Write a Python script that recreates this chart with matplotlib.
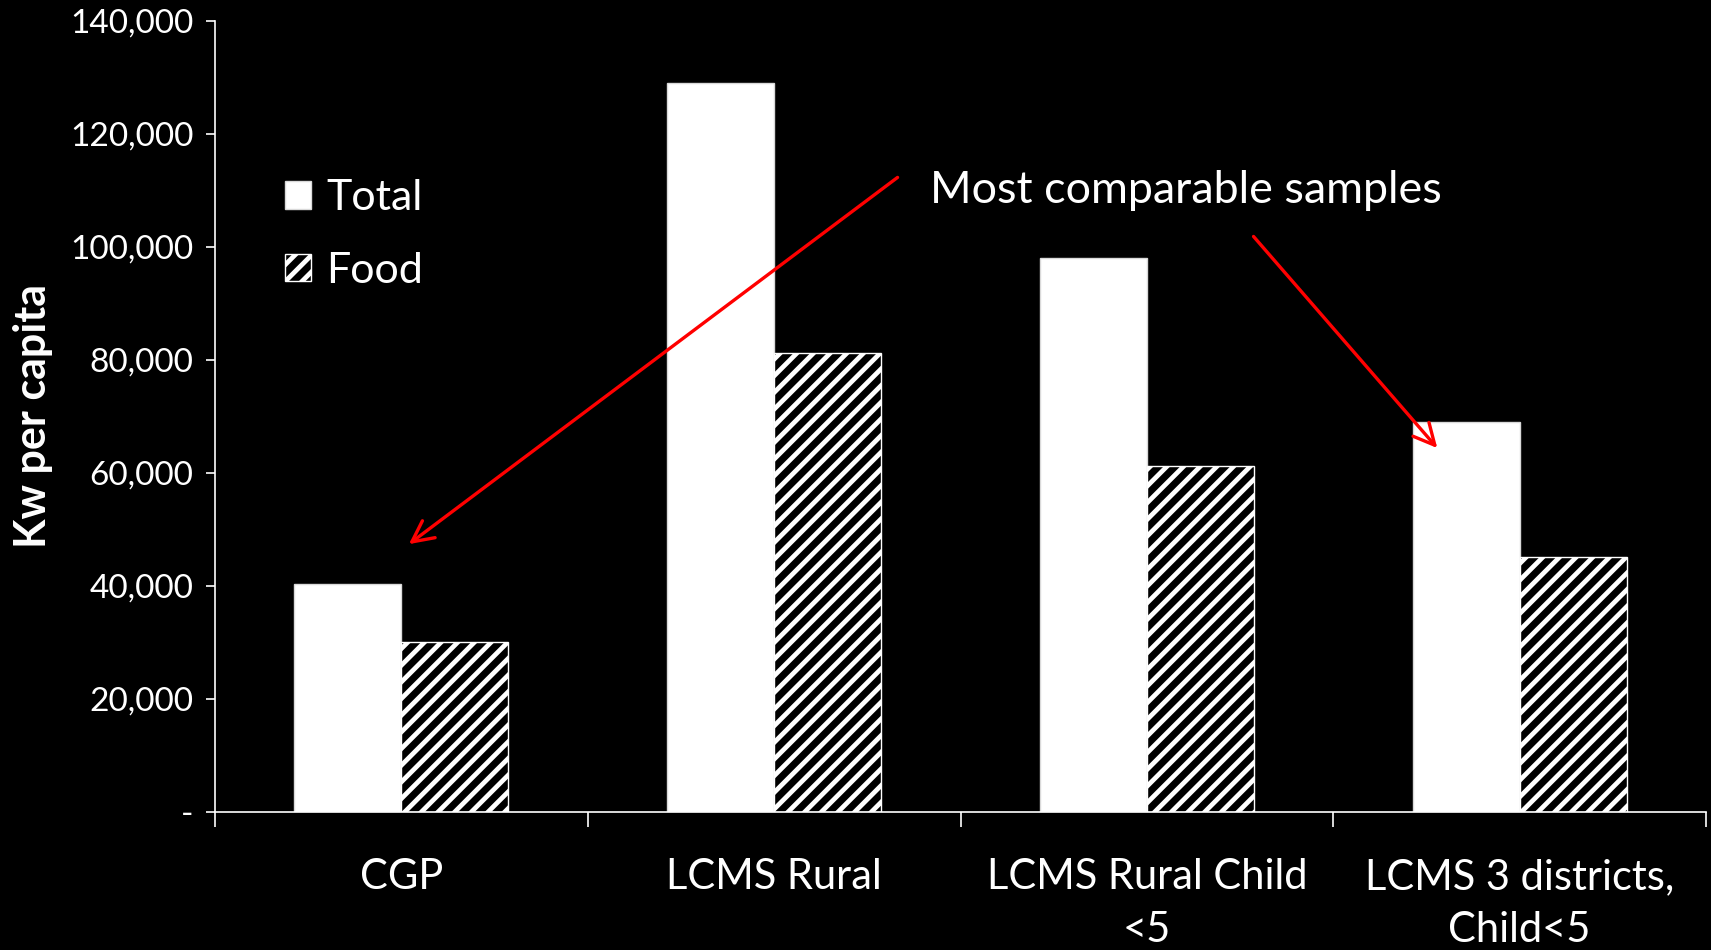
""" Bar chart of total and food consumption per capita across samples. """

import numpy as np
import matplotlib
matplotlib.use('Agg')
from matplotlib import pyplot as plt
from matplotlib.ticker import FuncFormatter, FixedLocator, FixedFormatter

# Data
categories = ['CGP', 'LCMS Rural', 'LCMS Rural Child\n<5', 'LCMS 3 districts,\nChild<5']
total = [40300, 129000, 98000, 69000]
food = [30000, 81300, 61200, 45200]
series_labels = ['Total', 'Food']
y_label = 'Kw per capita'
note = 'Most comparable samples'

plt.rcParams['font.family'] = ['Lato', 'DejaVu Sans']
plt.rcParams['hatch.linewidth'] = 3.4

fig = plt.figure(figsize=(17.11, 9.5), dpi=100, facecolor='black')
ax = fig.add_axes([0.1257, 0.1453, 0.8714, 0.8327], facecolor='black')

x = np.arange(len(categories))
width = 0.287

ax.bar(x - width/2, total, width, color='white', edgecolor='#d9d9d9',
       linewidth=1, label=series_labels[0])
ax.bar(x + width/2, food, width, color='black', edgecolor='white',
       hatch='//', linewidth=1, label=series_labels[1])

# Axes
ax.set_xlim(-0.5, len(categories) - 0.5)
ax.set_ylim(0, 140000)
ax.set_yticks(np.arange(0, 140001, 20000))
ax.yaxis.set_major_formatter(FuncFormatter(
    lambda v, p: '-' if v == 0 else f'{v:,.0f}'))

# category boundaries as major ticks, names on unmarked minor ticks
ax.xaxis.set_major_locator(FixedLocator(np.arange(-0.5, len(categories), 1.0)))
ax.xaxis.set_major_formatter(FixedFormatter([]))
ax.xaxis.set_minor_locator(FixedLocator(x))
ax.xaxis.set_minor_formatter(FixedFormatter(categories))
ax.tick_params(axis='x', which='major', length=11, width=1.2, color='white',
               direction='out')
ax.tick_params(axis='x', which='minor', length=0, pad=33, labelsize=30,
               labelcolor='white')
ax.tick_params(axis='y', length=6.5, width=1.2, color='white',
               labelcolor='white', labelsize=24, pad=9)

for s in ['top', 'right']:
    ax.spines[s].set_visible(False)
for s in ['left', 'bottom']:
    ax.spines[s].set_color('white')
    ax.spines[s].set_linewidth(1.2)

ax.set_ylabel(y_label, fontsize=31, fontweight='bold', color='white')
ax.yaxis.set_label_coords(-0.109, 0.5)

# Legend
leg = ax.legend(loc='upper left', bbox_to_anchor=(0.047, 0.80), frameon=False,
                fontsize=31, handlelength=0.6, handleheight=0.6,
                handletextpad=0.35, labelspacing=0.8, borderpad=0,
                borderaxespad=0)
for t in leg.get_texts():
    t.set_color('white')

# Annotation
ax.text(1.418, 110000, note, fontsize=32.3, color='white', ha='left',
        va='center')
arrow = dict(arrowstyle='->', color='red', lw=2.4, mutation_scale=38,
             shrinkA=0, shrinkB=0)
ax.annotate('', xy=(x[0] + 0.02, total[0] + 7100), xytext=(1.331, 112300),
            arrowprops=arrow)
ax.annotate('', xy=(x[3] - 0.221, total[3] - 4600), xytext=(2.286, 101850),
            arrowprops=arrow)

fig.canvas.draw()
for t in ax.xaxis.get_minorticklabels():
    t.set_linespacing(1.5)

plt.savefig('out.png', dpi=100, facecolor='black')
